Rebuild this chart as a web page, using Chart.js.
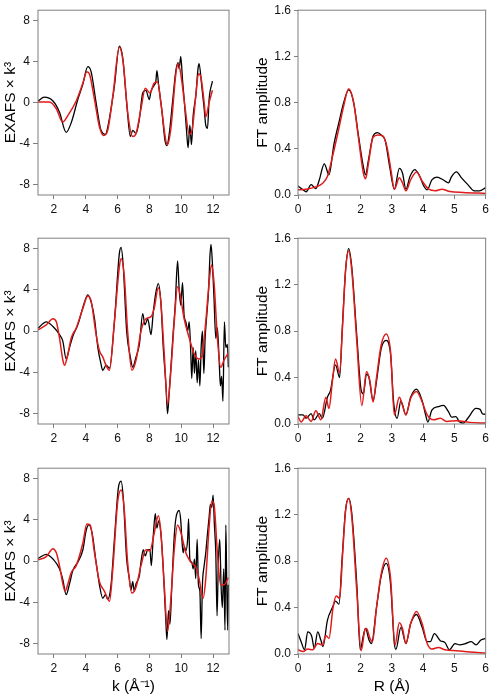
<!DOCTYPE html>
<html>
<head>
<meta charset="utf-8">
<script src="https://cdn.jsdelivr.net/npm/chart.js@4.4.1/dist/chart.umd.min.js"></script>
<style>
  html, body { margin: 0; padding: 0; background: #fff; }
  #page { position: relative; width: 492px; height: 696px; overflow: hidden; }
  canvas { position: absolute; }
</style>
</head>
<body>
<div id="page">
  <canvas id="chiA" width="232" height="215" style="left:0;top:0"></canvas>
  <canvas id="ftA" width="246" height="215" style="left:246px;top:0"></canvas>
  <canvas id="chiB" width="232" height="216" style="left:0;top:228px"></canvas>
  <canvas id="ftB" width="246" height="216" style="left:246px;top:228px"></canvas>
  <canvas id="chiC" width="232" height="238" style="left:0;top:458px"></canvas>
  <canvas id="ftC" width="246" height="238" style="left:246px;top:458px"></canvas>
</div>
<script>
// axis ticks
const kTicks = [2, 4, 6, 8, 10, 12];
const chiTicks = [-8, -4, 0, 4, 8];
const rTicks = [0, 1, 2, 3, 4, 5, 6];
const ftTicks = [0, 0.4, 0.8, 1.2, 1.6];

// sample A (top row)
const kDataA = [1.0,1.4,1.94,2.35,2.77,3.1,3.5,3.8,4.13,4.34,4.65,4.96,5.24,5.4,5.8,6.11,6.32,6.57,6.8,6.95,7.16,7.37,7.58,7.78,7.99,8.1,8.3,8.4,8.47,8.58,8.79,8.97,9.1,9.24,9.45,9.66,9.8,9.87,9.97,10.08,10.2,10.35,10.43,10.54,10.64,10.75,10.91,11.06,11.12,11.27,11.44,11.54,11.65,11.75,11.96];
const chiDataA = [0.15,0.53,0.15,-0.94,-2.9,-1.9,0.3,1.7,3.5,3.0,0,-2.7,-3.1,-2.26,1.6,5.5,4.4,0,-3.3,-2.7,-3.0,-1.6,0.94,1.2,0.3,1.1,1.7,2.0,3.1,1.7,-0.9,-3.6,-4.2,-3.1,0,3.1,3.9,3.3,4.5,2.2,0,-3.1,-4.4,-2.2,-4.1,-1.25,0.6,3.4,3.8,1.9,-0.6,-2.2,-2.5,0.3,2.1];
const kFitA = [1.0,1.73,2.15,2.56,2.88,3.4,3.82,4.07,4.23,4.55,4.86,5.13,5.38,5.7,6.11,6.36,6.63,6.95,7.16,7.47,7.74,8.03,8.3,8.51,8.72,9.04,9.14,9.35,9.66,9.8,9.97,10.25,10.5,10.7,10.91,11.08,11.23,11.44,11.54,11.75,11.96];
const chiFitA = [0.06,0.06,-0.6,-1.9,-1.25,0.15,1.9,3.0,2.8,0.3,-2.35,-3.2,-2.7,0.6,5.4,3.8,-0.9,-3.3,-3.0,-0.6,1.4,0.94,1.9,2.0,0,-3.8,-4.1,-2.5,2.8,3.8,2.8,-0.6,-3.1,-2.5,0.6,2.8,2.5,0,-1.4,0,1.2];
const rDataA = [0,0.16,0.26,0.42,0.57,0.68,0.84,0.99,1.15,1.31,1.46,1.62,1.78,1.93,2.09,2.16,2.25,2.4,2.54,2.66,2.79,2.93,3.08,3.24,3.34,3.45,3.58,3.73,3.87,4.02,4.13,4.28,4.44,4.65,4.81,4.91,5.07,5.22,5.43,5.64,5.8,6.0];
const ftDataA = [0.078,0.045,0.028,0.09,0.056,0.13,0.27,0.175,0.44,0.63,0.8,0.91,0.8,0.52,0.245,0.175,0.3,0.51,0.54,0.52,0.47,0.245,0.05,0.23,0.19,0.05,0.16,0.22,0.175,0.078,0.045,0.13,0.155,0.13,0.105,0.16,0.2,0.15,0.09,0.036,0.036,0.064];
const rFitA = [0,0.26,0.57,0.78,0.94,1.1,1.31,1.46,1.62,1.78,1.93,2.09,2.16,2.25,2.4,2.56,2.72,2.85,2.98,3.08,3.24,3.34,3.45,3.6,3.79,3.97,4.18,4.39,4.6,4.86,5.28,6.0];
const ftFitA = [0.045,0.05,0.07,0.1,0.16,0.33,0.58,0.77,0.92,0.8,0.5,0.19,0.14,0.27,0.5,0.52,0.51,0.41,0.2,0.05,0.15,0.105,0.036,0.13,0.2,0.12,0.05,0.036,0.05,0.03,0.022,0.014];

// sample B (middle row)
const kDataB = [1.0,1.52,1.94,2.35,2.56,2.77,2.98,3.19,3.5,3.92,4.13,4.34,4.55,4.76,4.96,5.07,5.28,5.49,5.8,6.11,6.22,6.36,6.57,6.8,6.95,7.16,7.37,7.58,7.72,7.89,8.1,8.24,8.4,8.56,8.72,8.87,9.04,9.14,9.24,9.35,9.5,9.62,9.77,9.87,9.97,10.08,10.18,10.29,10.4,10.5,10.6,10.66,10.75,10.83,10.91,11.0,11.08,11.17,11.25,11.33,11.42,11.5,11.6,11.72,11.8,11.87,11.96,12.06,12.17,12.27,12.38,12.46,12.54,12.62,12.71,12.8,12.9,12.96];
const chiDataB = [0.28,0.9,0.44,-0.34,-0.97,-2.7,-1.6,-0.5,0.6,2.8,3.5,2.8,1.2,-1.6,-3.2,-3.8,-3.3,-3.6,0.9,7.5,8.1,6.2,0,-2.5,-3.5,-2.5,-1.3,1.7,0.6,1.2,-0.34,1.8,3.7,4.6,2.8,-1.6,-5.3,-8.0,-6.0,-3.5,0,2.5,6.8,4.0,2.5,4.7,1.5,0.9,0,0.9,-2.2,-4.6,-1.6,-4.1,-1.9,-5.0,-2.8,-5.3,-1.6,0,-4.1,-0.7,1.5,4.0,7.2,8.4,6.5,3.1,-0.7,0.3,-2.8,-5.3,-4.4,-6.8,0.9,-1.6,-1.3,-3.5];
const kFitB = [1.0,1.52,1.94,2.15,2.35,2.56,2.67,2.88,3.09,3.4,3.82,4.13,4.34,4.65,4.86,5.07,5.24,5.49,5.8,6.11,6.22,6.42,6.63,6.9,7.16,7.47,7.78,8.1,8.3,8.56,8.72,8.93,9.14,9.35,9.56,9.77,9.91,10.18,10.5,10.81,11.12,11.29,11.54,11.75,11.9,12.06,12.27,12.48,12.69,12.96];
const chiFitB = [0.12,0.6,1.2,0.9,-0.66,-2.8,-3.3,-2.2,-0.66,0.3,2.2,3.4,2.9,-0.34,-1.9,-2.5,-3.2,-3.8,0.9,6.2,7.0,5.3,0,-3.8,-2.8,0,1.2,1.4,2.2,4.2,2.8,-2.2,-7.1,-3.8,0.9,4.3,3.7,1.2,-0.66,-2.2,-2.7,-2.5,0.9,4.7,6.4,4.7,-0.66,-3.5,-2.8,-2.1];
const rDataB = [0,0.16,0.26,0.42,0.52,0.68,0.78,0.94,1.04,1.2,1.33,1.41,1.52,1.62,1.72,1.88,2.02,2.09,2.19,2.27,2.4,2.51,2.66,2.82,2.96,3.06,3.17,3.29,3.45,3.6,3.79,3.97,4.08,4.15,4.28,4.49,4.65,4.81,4.91,5.05,5.15,5.28,5.43,5.69,5.82,5.9,6.0];
const ftDataB = [0.078,0.078,0.05,0.09,0.036,0.09,0.05,0.23,0.29,0.51,0.4,0.79,1.32,1.51,1.35,0.76,0.29,0.26,0.43,0.4,0.2,0.37,0.65,0.72,0.6,0.18,0.05,0.2,0.078,0.23,0.3,0.2,0.078,0.017,0.12,0.15,0.16,0.106,0.06,0.064,0.022,0.008,0.05,0.134,0.126,0.087,0.084];
const rFitB = [0,0.1,0.26,0.42,0.57,0.73,0.89,0.99,1.1,1.2,1.33,1.43,1.52,1.62,1.72,1.88,2.04,2.19,2.3,2.4,2.51,2.66,2.82,2.96,3.08,3.24,3.34,3.45,3.6,3.79,3.97,4.13,4.34,4.55,4.75,5.07,5.49,6.0];
const ftFitB = [0.064,0.017,0.07,0.022,0.115,0.036,0.23,0.134,0.37,0.56,0.44,0.875,1.32,1.49,1.32,0.71,0.16,0.45,0.37,0.19,0.4,0.68,0.775,0.62,0.078,0.23,0.16,0.078,0.22,0.28,0.19,0.078,0.036,0.05,0.022,0.028,0.014,0.008];

// sample C (bottom row)
const kDataC = [1.0,1.52,1.94,2.35,2.56,2.77,2.98,3.19,3.5,3.82,4.03,4.2,4.4,4.65,4.86,5.07,5.24,5.38,5.59,5.8,6.05,6.22,6.36,6.57,6.74,6.84,6.95,7.05,7.16,7.37,7.47,7.62,7.74,7.89,8.03,8.12,8.24,8.37,8.47,8.58,8.72,8.87,8.97,9.04,9.1,9.2,9.29,9.41,9.56,9.66,9.87,9.97,10.04,10.12,10.2,10.29,10.4,10.46,10.54,10.66,10.75,10.83,10.91,11.0,11.08,11.17,11.25,11.33,11.44,11.54,11.65,11.75,11.83,11.92,12.0,12.08,12.17,12.25,12.33,12.42,12.5,12.58,12.67,12.75,12.8,12.86,12.92,12.96];
const chiDataC = [0.25,0.66,0.2,-0.75,-1.8,-3.25,-2.2,-0.9,-0.1,1.1,3.0,3.5,2.7,-0.1,-2.3,-3.6,-3.25,-3.7,-2.3,2.1,7.1,7.75,6.1,0.2,-1.7,-2.8,-2.0,-2.9,-2.2,-1.4,-0.1,1.1,0.5,1.1,1.1,-0.44,2.4,4.6,3.2,3.9,2.7,-0.75,-3.9,-6.1,-7.6,-4.8,-6.1,-2.3,2.4,4.1,4.9,3.9,2.1,0.8,1.4,1.0,2.1,4.1,0.2,-0.1,-0.75,0.2,-1.7,2.1,-2.3,-2.9,-7.5,-2.3,-0.44,0.8,2.7,4.25,5.5,5.2,6.4,3.6,0.8,-5.3,-0.1,2.1,-2.3,-4.5,-0.75,-6.7,3.5,-2.3,-6.7,-2.3];
const kFitC = [1.0,1.52,1.94,2.15,2.35,2.56,2.7,2.88,3.09,3.4,3.82,4.07,4.28,4.55,4.86,5.17,5.49,5.7,6.01,6.22,6.42,6.63,6.9,7.16,7.47,7.78,8.03,8.3,8.56,8.72,8.93,9.14,9.35,9.56,9.77,9.97,10.29,10.6,10.91,11.12,11.37,11.54,11.75,11.92,12.06,12.27,12.48,12.69,12.96];
const chiFitC = [0.12,0.44,1.2,0.8,-0.44,-2.2,-2.9,-2.2,-1.1,-0.44,1.75,3.6,3.5,0.8,-2.0,-2.9,-3.9,-0.75,5.8,6.9,5.0,-0.1,-3.1,-2.5,-0.44,1.1,1.0,2.7,4.4,2.8,-2.3,-6.8,-3.6,1.1,3.5,2.8,0.8,-0.1,-0.6,-1.7,-3.6,-1.7,3.3,5.8,5.5,0.8,-2.3,-2.3,-1.6];
const rDataC = [0,0.1,0.21,0.31,0.44,0.52,0.63,0.73,0.8,0.94,1.1,1.2,1.31,1.41,1.52,1.62,1.72,1.88,1.99,2.09,2.16,2.27,2.35,2.51,2.66,2.82,2.96,3.08,3.13,3.29,3.45,3.6,3.79,3.97,4.13,4.23,4.36,4.55,4.7,4.84,5.02,5.17,5.33,5.54,5.69,5.85,6.0];
const ftDataC = [0.176,0.106,0.036,0.19,0.15,0.05,0.19,0.12,0.064,0.29,0.4,0.456,0.43,0.82,1.24,1.34,1.21,0.6,0.036,0.16,0.22,0.12,0.09,0.4,0.67,0.78,0.6,0.09,0.04,0.23,0.09,0.26,0.34,0.23,0.106,0.106,0.176,0.115,0.098,0.036,0.09,0.078,0.087,0.106,0.078,0.12,0.134];
const rFitC = [0,0.16,0.31,0.47,0.63,0.78,0.89,0.99,1.12,1.22,1.33,1.43,1.52,1.62,1.72,1.88,2.02,2.14,2.19,2.3,2.38,2.51,2.66,2.82,2.96,3.1,3.24,3.34,3.45,3.6,3.79,3.97,4.13,4.28,4.49,4.7,5.07,5.49,6.0];
const ftFitC = [0.036,0.022,0.042,0.036,0.09,0.078,0.16,0.134,0.4,0.5,0.48,0.875,1.23,1.34,1.18,0.54,0.028,0.21,0.22,0.134,0.106,0.4,0.69,0.825,0.65,0.078,0.27,0.22,0.09,0.26,0.366,0.26,0.09,0.042,0.056,0.036,0.028,0.017,0.008];

const FONT = "'Liberation Sans', Arial, sans-serif";
const FRAME = "#7f7f7f";

// box around the plot area (SigmaPlot style)
const framePlugin = {
  id: "frame",
  afterDraw(chart) {
    const { ctx, chartArea: a } = chart;
    ctx.save();
    ctx.strokeStyle = FRAME;
    ctx.lineWidth = 1;
    ctx.strokeRect(a.left, a.top, a.right - a.left, a.bottom - a.top);
    ctx.restore();
  },
};

function pairs(xs, ys) {
  return xs.map((x, i) => ({ x, y: ys[i] }));
}

function makePanel(id, o) {
  const ctx = document.getElementById(id).getContext("2d");
  return new Chart(ctx, {
    type: "line",
    data: {
      datasets: [
        { data: pairs(o.xFit, o.yFit), borderColor: "#e01b1b", borderWidth: 1.5 },
        { data: pairs(o.xData, o.yData), borderColor: "#000", borderWidth: 1.3 },
      ],
    },
    options: {
      responsive: false,
      animation: false,
      events: [],
      cubicInterpolationMode: "monotone",
      elements: { point: { radius: 0 } },
      layout: { padding: { top: o.padTop, right: 3, left: 0, bottom: 0 } },
      plugins: { legend: { display: false }, tooltip: { enabled: false } },
      scales: {
        x: {
          type: "linear",
          min: o.xMin,
          max: o.xMax,
          afterBuildTicks: (s) => { s.ticks = o.xTicks.map((v) => ({ value: v })); },
          afterFit: (s) => { s.height = o.xH; },
          border: { display: false },
          grid: { drawOnChartArea: false, drawTicks: true, tickLength: 4, color: FRAME },
          ticks: { padding: 3, maxRotation: 0, color: "#111", font: { family: FONT, size: 12 } },
          title: {
            display: !!o.xTitle,
            text: o.xTitle || "",
            color: "#000",
            padding: { top: 0, bottom: 0 },
            font: { family: FONT, size: 15.5 },
          },
        },
        y: {
          type: "linear",
          min: o.yMin,
          max: o.yMax,
          afterBuildTicks: (s) => { s.ticks = o.yTicks.map((v) => ({ value: v })); },
          afterFit: (s) => { s.width = o.yW; },
          border: { display: false },
          grid: { drawOnChartArea: false, drawTicks: true, tickLength: o.tickLen, color: FRAME },
          ticks: {
            padding: 3,
            color: "#111",
            font: { family: FONT, size: 12 },
            callback: o.yFmt,
          },
          title: {
            display: true,
            text: o.yTitle,
            color: "#000",
            padding: { top: o.yTitlePad, bottom: 0 },
            font: { family: FONT, size: 15.5 },
          },
        },
      },
    },
    plugins: [framePlugin],
  });
}

const chiCommon = {
  xMin: 1, xMax: 13, xTicks: kTicks,
  yMin: -9, yMax: 9, yTicks: chiTicks,
  yW: 38, tickLen: 5, yTitlePad: 1,
  yTitle: "EXAFS \u00d7 k\u00b3",
  yFmt: (v) => String(v),
};
const ftCommon = {
  xMin: 0, xMax: 6, xTicks: rTicks,
  yMin: 0, yMax: 1.6, yTicks: ftTicks,
  yW: 52, tickLen: 4, yTitlePad: 7,
  yTitle: "FT amplitude",
  yFmt: (v) => v.toFixed(1),
};

makePanel("chiA", { ...chiCommon, padTop: 4, xH: 20, xData: kDataA, yData: chiDataA, xFit: kFitA, yFit: chiFitA });
makePanel("ftA", { ...ftCommon, padTop: 4, xH: 20, xData: rDataA, yData: ftDataA, xFit: rFitA, yFit: ftFitA });
makePanel("chiB", { ...chiCommon, padTop: 5, xH: 20, xData: kDataB, yData: chiDataB, xFit: kFitB, yFit: chiFitB });
makePanel("ftB", { ...ftCommon, padTop: 5, xH: 20, xData: rDataB, yData: ftDataB, xFit: rFitB, yFit: ftFitB });
makePanel("chiC", { ...chiCommon, padTop: 5, xH: 42, xTitle: "k (\u00c5\u207b\u00b9)", xData: kDataC, yData: chiDataC, xFit: kFitC, yFit: chiFitC });
makePanel("ftC", { ...ftCommon, padTop: 5, xH: 42, xTitle: "R (\u00c5)", xData: rDataC, yData: ftDataC, xFit: rFitC, yFit: ftFitC });
</script>
</body>
</html>
